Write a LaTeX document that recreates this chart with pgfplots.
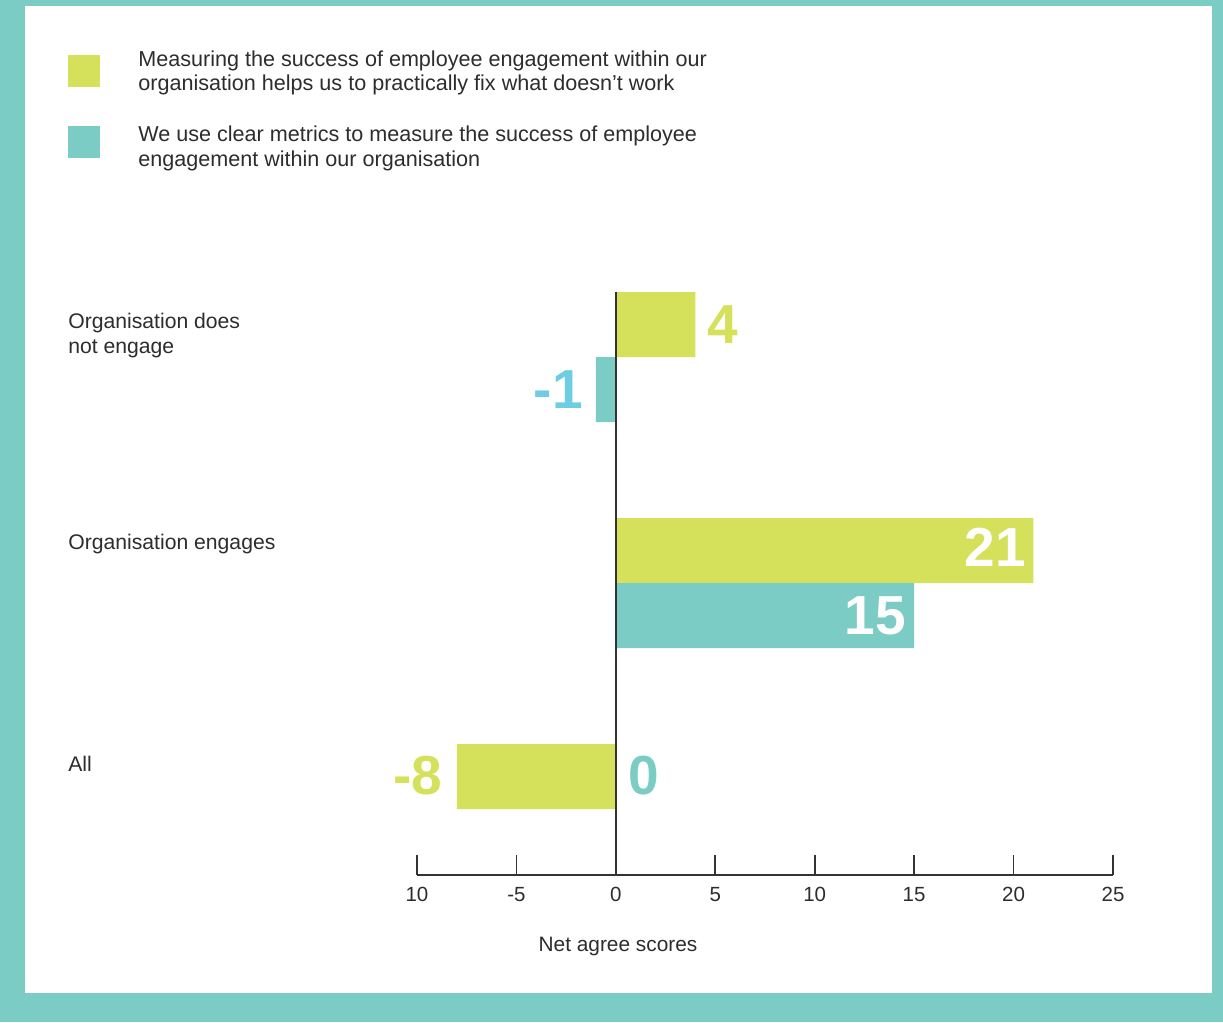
\documentclass[border=0pt]{standalone}
\usepackage{pgfplots}
\pgfplotsset{compat=1.18}
\usepackage{fontspec}
\setmainfont{Liberation Sans}
\definecolor{ylw}{RGB}{213,224,91}
\definecolor{tel}{RGB}{122,204,196}
\definecolor{blu}{RGB}{109,205,225}
\definecolor{txt}{RGB}{45,45,45}
\begin{document}
\begin{tikzpicture}
\begin{scope}[x=0.6pt,y=-0.6pt]
\fill[tel] (0,0) rectangle (1223,1022);
\fill[white] (25,6) rectangle (1212,993);
% legend
\fill[ylw] (68,55) rectangle (100,87);
\fill[tel] (68,126) rectangle (100,158);
\begin{scope}[every node/.style={anchor=base west,inner sep=0,font=\fontsize{12.95pt}{15pt}\selectfont,text=txt}]
\node at (138,66) {Measuring the success of employee engagement within our};
\node at (138,90) {organisation helps us to practically fix what doesn’t work};
\node at (138,141) {We use clear metrics to measure the success of employee};
\node at (138,166) {engagement within our organisation};
\end{scope}
\begin{scope}[every node/.style={anchor=base west,inner sep=0,font=\fontsize{12.7pt}{15pt}\selectfont,text=txt}]
\node at (68,328) {Organisation does};
\node at (68,353) {not engage};
\node at (68,549) {Organisation engages};
\node at (68,771) {All};
\end{scope}
\node[anchor=base,inner sep=0,font=\fontsize{12.5pt}{15pt}\selectfont,text=txt] at (618,951) {Net agree scores};
\end{scope}
\begin{axis}[
  at={(250.2pt,-525pt)}, anchor=south west,
  x=11.9316pt, y=0.6pt,
  xmin=-10, xmax=25, ymin=-875, ymax=-292,
  axis x line=bottom, axis y line=none,
  x axis line style={-, line width=1pt, black!80},
  xtick={-10,-5,0,5,10,15,20,25},
  xticklabels={10,-5,0,5,10,15,20,25},
  tick align=inside, major tick length=12pt,
  tick style={line width=1pt, black!80},
  xticklabel style={font=\fontsize{12.3pt}{15pt}\selectfont, text=txt, yshift=-4pt},
  ytick=\empty,
  clip=false,
]
\addplot[xbar, bar width=39pt, fill=ylw, draw=none] coordinates {(4,-324.5) (21,-550.5) (-8,-776.5)};
\addplot[xbar, bar width=39pt, fill=tel, draw=none] coordinates {(-1,-389.5) (15,-615.5) (0,-841.5)};
\draw[black!80, line width=1pt] (axis cs:0,-292) -- (axis cs:0,-875);
\begin{scope}[every node/.style={inner sep=0,font=\fontsize{33pt}{36pt}\selectfont\bfseries}]
\node[anchor=west,text=ylw] at (axis cs:4.6,-324.5) {4};
\node[anchor=east,text=blu] at (axis cs:-1.65,-389.5) {-1};
\node[anchor=east,text=white] at (axis cs:20.65,-547) {21};
\node[anchor=east,text=white] at (axis cs:14.6,-616) {15};
\node[anchor=east,text=ylw] at (axis cs:-8.7,-776) {-8};
\node[anchor=west,text=tel] at (axis cs:0.6,-776) {0};
\end{scope}
\end{axis}
\end{tikzpicture}
\end{document}
